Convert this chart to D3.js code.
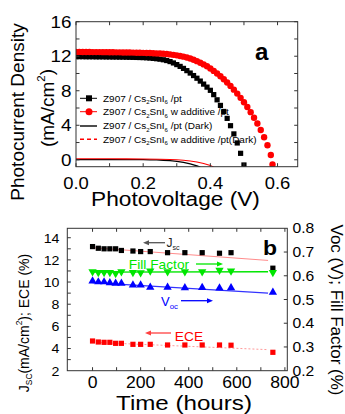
<!DOCTYPE html>
<html><head><meta charset="utf-8">
<script src="https://cdn.jsdelivr.net/npm/d3@7"></script>
<style>body{margin:0;background:#fff}svg{display:block}text{font-family:"Liberation Sans",Arial,sans-serif}</style>
</head><body><svg id="c" width="345" height="414"></svg>
<script>
// ---------- Panel a data ----------
const voltBlack = [0,0.01,0.02,0.03,0.04,0.05,0.06,0.07,0.08,0.09,0.10,0.11,0.12,0.13,0.14,0.15,0.16,0.17,0.18,0.19,0.20,0.21,0.22,0.23,0.24,0.25,0.26,0.27,0.28,0.29,0.30,0.31,0.32,0.33,0.34,0.35,0.36,0.37,0.38,0.39,0.40,0.41,0.42,0.43,0.44,0.45,0.46,0.47,0.48,0.49,0.50];
const jBlack = [11.95,11.95,11.95,11.94,11.94,11.94,11.93,11.93,11.93,11.92,11.92,11.91,11.91,11.90,11.90,11.89,11.88,11.87,11.86,11.85,11.84,11.82,11.79,11.75,11.71,11.66,11.59,11.50,11.38,11.22,11.03,10.82,10.59,10.33,10.05,9.76,9.45,9.12,8.77,8.42,8.05,7.55,6.95,6.30,5.60,4.80,3.95,3.00,1.95,0.75,-0.60];
const voltRed = [0,0.01,0.02,0.03,0.04,0.05,0.06,0.07,0.08,0.09,0.10,0.11,0.12,0.13,0.14,0.15,0.16,0.17,0.18,0.19,0.20,0.21,0.22,0.23,0.24,0.25,0.26,0.27,0.28,0.29,0.30,0.31,0.32,0.33,0.34,0.35,0.36,0.37,0.38,0.39,0.40,0.41,0.42,0.43,0.44,0.45,0.46,0.47,0.48,0.49,0.50,0.51,0.52,0.53,0.54,0.55,0.56,0.57,0.58,0.585];
const jRed = [12.50,12.50,12.49,12.49,12.49,12.48,12.48,12.48,12.47,12.47,12.46,12.46,12.45,12.45,12.44,12.44,12.43,12.42,12.41,12.40,12.39,12.38,12.37,12.35,12.33,12.31,12.28,12.25,12.21,12.16,12.10,12.03,11.95,11.85,11.73,11.59,11.43,11.25,11.05,10.83,10.58,10.30,10.00,9.68,9.33,8.96,8.56,8.13,7.67,7.18,6.66,6.11,5.52,4.88,4.20,3.45,2.62,1.68,0.55,-0.55];
const voltDarkBlack = [0,0.05,0.10,0.15,0.20,0.22,0.24,0.26,0.28,0.30,0.32,0.34,0.36,0.37];
const jDarkBlack = [0.03,0.03,0.03,0.02,0.01,0.0,-0.02,-0.05,-0.10,-0.18,-0.30,-0.47,-0.70,-0.85];
const voltDarkRed = [0,0.05,0.10,0.15,0.20,0.25,0.28,0.30,0.32,0.34,0.36,0.38,0.40,0.41];
const jDarkRed = [0.12,0.12,0.12,0.11,0.10,0.07,0.04,0.0,-0.06,-0.14,-0.26,-0.42,-0.65,-0.85];
const xTicksA = [0,0.2,0.4,0.6];
const yTicksA = [0,4,8,12,16];

// ---------- Panel b data ----------
const hours = [0,24,48,72,96,120,168,200,240,312,384,456,528,576,750];
const jsc = [13.2,13.05,13.0,13.0,13.0,12.85,12.8,12.75,12.75,12.65,12.65,12.65,12.6,12.65,11.25];
const fillFactor = [0.617,0.614,0.614,0.614,0.610,0.617,0.614,0.613,0.620,0.617,0.617,0.617,0.624,0.620,0.614];
const voc = [0.578,0.574,0.574,0.570,0.568,0.568,0.561,0.561,0.551,0.551,0.549,0.550,0.548,0.549,0.530];
const ece = [4.68,4.59,4.56,4.56,4.47,4.47,4.38,4.38,4.38,4.32,4.32,4.32,4.32,4.30,3.66];
const fitHours = [0,730];
const jscFit = [13.1,11.95];
const ffFit = [0.615,0.617];
const vocFit = [0.571,0.527];
const eceFit = [4.56,3.9];
const xTicksB = [0,200,400,600,800];
const yTicksBL = [2,4,6,8,10,12,14];
const yTicksBR = [0.2,0.3,0.4,0.5,0.6,0.7,0.8];

const svg = d3.select("#c");

function txt(g, x, y, s, o={}) {
  const t = g.append("text")
    .attr("transform", `translate(${x},${y}) rotate(${o.rot||0}) scale(${o.sx||1},1)`)
    .attr("font-size", o.size||12)
    .attr("text-anchor", o.anchor||"start")
    .attr("fill", o.fill||"#000")
    .attr("font-weight", o.weight||"normal");
  if (Array.isArray(s)) {
    s.forEach(p => {
      const ts = t.append("tspan").text(p.t);
      if (p.sub) ts.attr("font-size", (o.size||12)*0.6).attr("dy", (o.size||12)*0.25);
      if (p.sup) ts.attr("font-size", (o.size||12)*0.6).attr("dy", -(o.size||12)*0.45);
      if (p.back) ts.attr("dy", p.back);
    });
  } else t.text(s);
  return t;
}

function box(g, x0, x1, y0, y1) {
  g.append("rect").attr("x", x0).attr("y", y1).attr("width", x1-x0).attr("height", y0-y1)
    .attr("fill","none").attr("stroke","#333").attr("stroke-width",1);
}
function ticksX(g, sc, vals, y0, y1, len) {
  vals.forEach(v => {
    const x = sc(v);
    g.append("line").attr("x1",x).attr("x2",x).attr("y1",y0).attr("y2",y0-len).attr("stroke","#333");
    g.append("line").attr("x1",x).attr("x2",x).attr("y1",y1).attr("y2",y1+len).attr("stroke","#333");
  });
}
function ticksY(g, sc, vals, x0, x1, len, sides) {
  vals.forEach(v => {
    const y = sc(v);
    if (sides.includes("l")) g.append("line").attr("x1",x0).attr("x2",x0+len).attr("y1",y).attr("y2",y).attr("stroke","#333");
    if (sides.includes("r")) g.append("line").attr("x1",x1).attr("x2",x1-len).attr("y1",y).attr("y2",y).attr("stroke","#333");
  });
}

// ================= Panel a =================
const gA = svg.append("g");
const xA = d3.scaleLinear().domain([0,0.66]).range([76,297.7]);
const yA = d3.scaleLinear().domain([-0.8,16]).range([166.7,21.7]);
svg.append("clipPath").attr("id","clipA").append("rect")
  .attr("x",76).attr("y",21.7).attr("width",221.7).attr("height",145);
const plotA = gA.append("g").attr("clip-path","url(#clipA)");

const line = d3.line();
plotA.append("path").attr("d", line(voltDarkBlack.map((v,i)=>[xA(v), yA(jDarkBlack[i])])))
  .attr("fill","none").attr("stroke","#000").attr("stroke-width",1.3);
plotA.append("path").attr("d", line(voltDarkRed.map((v,i)=>[xA(v), yA(jDarkRed[i])])))
  .attr("fill","none").attr("stroke","#f00").attr("stroke-width",1.1);

plotA.selectAll(".sqA").data(voltBlack).join("rect")
  .attr("x",(d)=>xA(d)-2.6).attr("y",(d,i)=>yA(jBlack[i])-2.6).attr("width",5.2).attr("height",5.2).attr("fill","#000");
plotA.selectAll(".ciA").data(voltRed).join("circle")
  .attr("cx",(d)=>xA(d)).attr("cy",(d,i)=>yA(jRed[i])).attr("r",3.2).attr("fill","#f00");

box(gA, 76, 297.7, 166.7, 21.7);
ticksX(gA, xA, [0,0.1,0.2,0.3,0.4,0.5,0.6], 166.7, 21.7, 3.5);
ticksY(gA, yA, [0,2,4,6,8,10,12,14,16], 76, 297.7, 3.5, "lr");

xTicksA.forEach(v => txt(gA, xA(v), 189, d3.format(".1f")(v), {size:16, anchor:"middle", sx:1.15}));
yTicksA.forEach(v => txt(gA, 71.5, yA(v)+5.8, String(v), {size:16, anchor:"end", sx:1.18}));
txt(gA, 175.5, 206, "Photovoltage (V)", {size:21, anchor:"middle", sx:1.08});
txt(gA, 23.5, 112, "Photocurrent Density", {size:19, anchor:"middle", rot:-90});
txt(gA, 53.5, 108, [{t:"(mA/cm"}, {t:"2", sup:true}, {t:")", back:8.5}], {size:19, anchor:"middle", rot:-90});
txt(gA, 255, 60, "a", {size:23, weight:"bold", sx:1.05});

// legend
const legY = [98.3, 111.7, 126, 139.3];
const legTxt = [
  [{t:"Z907 / Cs"},{t:"2",sub:true},{t:"SnI",back:-2.4},{t:"6",sub:true},{t:" /pt",back:-2.4}],
  [{t:"Z907 / Cs"},{t:"2",sub:true},{t:"SnI",back:-2.4},{t:"6",sub:true},{t:"  w additive /pt",back:-2.4}],
  [{t:"Z907 / Cs"},{t:"2",sub:true},{t:"SnI",back:-2.4},{t:"6",sub:true},{t:" /pt (Dark)",back:-2.4}],
  [{t:"Z907 / Cs"},{t:"2",sub:true},{t:"SnI",back:-2.4},{t:"6",sub:true},{t:"  w additive /pt(Dark)",back:-2.4}]
];
legY.forEach((y,i) => {
  const col = (i%2===0) ? "#000" : "#f00";
  const ln = gA.append("line").attr("x1",80).attr("x2",97).attr("y1",y).attr("y2",y)
    .attr("stroke",col).attr("stroke-width", i<2?1:1.4);
  if (i===3) ln.attr("stroke-dasharray","4,3");
  if (i===0) gA.append("rect").attr("x",86).attr("y",y-3).attr("width",6).attr("height",6).attr("fill","#000");
  if (i===1) gA.append("circle").attr("cx",89).attr("cy",y).attr("r",3.5).attr("fill","#f00");
  txt(gA, 103, y+3.4, legTxt[i], {size:9.7, sx:1.03});
});

// ================= Panel b =================
const gB = svg.append("g");
const xB = d3.scaleLinear().domain([-105,810]).range([67.3,287.3]);
const yL = d3.scaleLinear().domain([2,14.85]).range([370.7,228.3]);
const yR = d3.scaleLinear().domain([0.2,0.8]).range([370.7,228.3]);

const fitLine = (arr, sc) => line(fitHours.map((h,i)=>[xB(h), sc(arr[i])]));
gB.append("path").attr("d", fitLine(jscFit, yL)).attr("stroke","#ff8c8c").attr("stroke-width",1).attr("fill","none");
gB.append("path").attr("d", fitLine(ffFit, yR)).attr("stroke","#00e600").attr("stroke-width",1.3).attr("fill","none");
gB.append("path").attr("d", fitLine(vocFit, yR)).attr("stroke","#3333ff").attr("stroke-width",1.2).attr("fill","none");
gB.append("path").attr("d", fitLine(eceFit, yL)).attr("stroke","#ff9a9a").attr("stroke-width",1).attr("stroke-dasharray","2,2").attr("fill","none");

const tri = d3.symbol().type(d3.symbolTriangle).size(30);
gB.selectAll(".jsc").data(hours).join("rect")
  .attr("x",d=>xB(d)-2.6).attr("y",(d,i)=>yL(jsc[i])-2.6).attr("width",5.2).attr("height",5.2).attr("fill","#000");
gB.selectAll(".ff").data(hours).join("path").attr("d",tri)
  .attr("transform",(d,i)=>`translate(${xB(d)},${yR(fillFactor[i])}) rotate(180)`).attr("fill","#00e600");
gB.selectAll(".voc").data(hours).join("path").attr("d",tri)
  .attr("transform",(d,i)=>`translate(${xB(d)},${yR(voc[i])})`).attr("fill","#0000ff");
gB.selectAll(".ece").data(hours).join("rect")
  .attr("x",d=>xB(d)-2.6).attr("y",(d,i)=>yL(ece[i])-2.6).attr("width",5.2).attr("height",5.2).attr("fill","#f00");

box(gB, 67.3, 287.3, 370.7, 228.3);
ticksX(gB, xB, [0,100,200,300,400,500,600,700,800], 370.7, 228.3, 3.5);
ticksY(gB, yL, [3,4,5,6,7,8,9,10,11,12,13,14], 67.3, 287.3, 3.5, "l");
ticksY(gB, yR, [0.3,0.4,0.5,0.6,0.7], 67.3, 287.3, 3.5, "r");

xTicksB.forEach(v => txt(gB, xB(v), 388, String(v), {size:16, anchor:"middle", sx:1.1}));
yTicksBL.forEach(v => txt(gB, 59.5, yL(v)+4.8, String(v), {size:13.5, anchor:"end", sx:1.05}));
yTicksBR.forEach(v => txt(gB, 292.5, yR(v)+5, d3.format(".1f")(v), {size:14, sx:1.12}));

txt(gB, 184, 410, "Time (hours)", {size:21, anchor:"middle", sx:1.15});
txt(gB, 28.5, 323, [{t:"J"},{t:"SC",sub:true},{t:"(mA/cm",back:-3.5},{t:"2",sup:true},{t:"); ECE (%)",back:6.3}], {size:14, anchor:"middle", rot:-90});
txt(gB, 331, 310, "Voc (V); Fill Factor (%)", {size:17, anchor:"middle", rot:90});
txt(gB, 263, 255, "b", {size:20, weight:"bold", sx:1.15});

function arrow(g, x1, x2, y, col) {
  const dir = x2 > x1 ? 1 : -1;
  g.append("line").attr("x1",x1).attr("x2",x2-dir*4).attr("y1",y).attr("y2",y).attr("stroke",col).attr("stroke-width",1.3);
  g.append("path").attr("d",`M${x2},${y}L${x2-dir*6},${y-2.5}L${x2-dir*6},${y+2.5}Z`).attr("fill",col);
}
arrow(gB, 165, 143, 242.7, "#555");
txt(gB, 166.5, 246.5, [{t:"J"},{t:"sc",sub:true}], {size:12, fill:"#222"});
txt(gB, 159, 269, "Fill Factor", {size:12.5, anchor:"middle", fill:"#00e600", sx:1.1});
arrow(gB, 196, 223, 264, "#00e600");
txt(gB, 161, 306, [{t:"V"},{t:"oc",sub:true}], {size:13, fill:"#0000ff"});
arrow(gB, 181, 213, 300.7, "#0000ff");
txt(gB, 189, 340.5, "ECE", {size:12.5, anchor:"middle", fill:"#f00", sx:1.1});
arrow(gB, 171, 145, 333, "#ff4040");
</script></body></html>
